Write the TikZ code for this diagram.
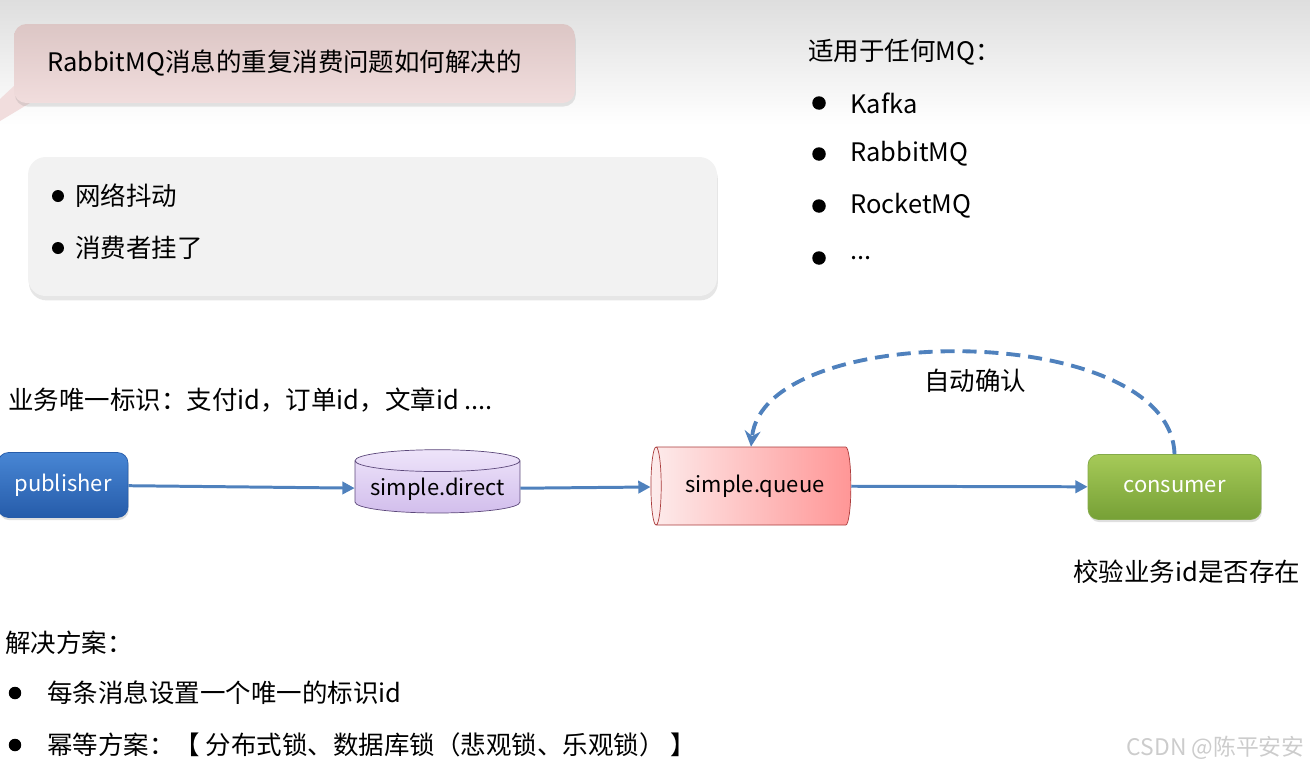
\documentclass[tikz,border=0pt]{standalone}
\usepackage{fontspec}
\setmainfont{Noto Sans CJK SC}
\usepackage{tikz}
\usetikzlibrary{
	shapes.geometric,
	arrows.meta,
	positioning,
	shadows
}
\definecolor{bggray}{RGB}{222,222,222}
\definecolor{titletop}{RGB}{220,198,197}
\definecolor{titlebot}{RGB}{241,221,221}
\definecolor{panelgray}{RGB}{242,242,242}
\definecolor{flowblue}{RGB}{79,129,189}
\definecolor{bluetop}{RGB}{72,134,212}
\definecolor{bluebot}{RGB}{38,92,170}
\definecolor{greentop}{RGB}{166,202,88}
\definecolor{greenbot}{RGB}{118,160,54}
\definecolor{lavtop}{RGB}{238,228,250}
\definecolor{lavbot}{RGB}{210,190,236}
\definecolor{lavline}{RGB}{92,72,122}
\definecolor{qleft}{RGB}{253,236,236}
\definecolor{qright}{RGB}{255,150,150}
\definecolor{qline}{RGB}{170,60,60}

\begin{document}
\begin{tikzpicture}[
				x=0.02cm, y=-0.02cm,
				stage/.style={
					rectangle, rounded corners=6pt,
					align=center, font=\fontsize{12.5}{15}\selectfont
				},
				bluebox/.style={
					stage, draw=bluebot, top color=bluetop, bottom color=bluebot,
					text=white, minimum width=2.6cm, minimum height=1.3cm,
					drop shadow={shadow xshift=0.5pt, shadow yshift=-1.5pt, opacity=0.25}
				},
				greenbox/.style={
					stage, draw=greenbot!90, top color=greentop, bottom color=greenbot,
					text=white, minimum width=3.46cm, minimum height=1.3cm,
					drop shadow={shadow xshift=0.5pt, shadow yshift=-1.5pt, opacity=0.25}
				},
				exchange/.style={
					cylinder, shape border rotate=90, aspect=0.15, draw=lavline,
					top color=lavtop, bottom color=lavbot,
					minimum width=3.3cm, minimum height=1.12cm,
					font=\fontsize{12.5}{15}\selectfont
				},
				queuebox/.style={
					cylinder, shape border rotate=180, aspect=0.3, draw=qline,
					left color=qleft, right color=qright,
					minimum width=1.56cm, minimum height=4cm,
					font=\fontsize{12.5}{15}\selectfont
				},
				titlebox/.style={
					rectangle, rounded corners=7pt, top color=titletop, bottom color=titlebot,
					minimum height=1.58cm, text width=9.9cm, inner xsep=0.66cm,
					align=left, font=\fontsize{14.5}{17}\selectfont,
					drop shadow={shadow xshift=0.5pt, shadow yshift=-2pt, opacity=0.2}
				},
				panel/.style={
					rectangle, rounded corners=10pt, fill=panelgray,
					minimum width=13.78cm, minimum height=2.78cm,
					drop shadow={shadow xshift=0.5pt, shadow yshift=-2.5pt, opacity=0.2}
				},
				note/.style={anchor=west, inner sep=0pt, font=\fontsize{14.5}{17}\selectfont},
				dot/.style={circle, fill=black, inner sep=0pt, minimum size=2.7mm},
				watermark/.style={anchor=east, inner sep=0pt, text=gray!40, font=\fontsize{13}{15}\selectfont},
				flow/.style={-{Triangle[length=7pt,width=7pt]}, line width=1.7pt, flowblue},
				ackline/.style={-{Stealth[length=9pt,width=9pt]}, line width=2.2pt, flowblue, dash pattern=on 8pt off 4.5pt}
				]
				
				% canvas and top shading
				\useasboundingbox (0,0) rectangle (1310,771);
				\fill[top color=bggray, bottom color=white] (0,0) rectangle (1310,125);
				
				% question callout
				\fill[titlebot] (14,86) -- (0,99) -- (0,121) -- (30,103) -- cycle;
				\node[titlebox] (title) at (294.5,63.5) {RabbitMQ消息的重复消费问题如何解决的};
				
				% causes
				\node[panel] (cause) at (372.5,226.5) {};
				\node[dot, minimum size=2.4mm] (jitterdot) at (58,196) {};
				\node[note] (jitter) at (75,196) {网络抖动};
				\node[dot, minimum size=2.4mm] (crashdot) at (58,248) {};
				\node[note] (crash) at (75,248) {消费者挂了};
				
				% any MQ
				\node[note] (anymq) at (808,52) {适用于任何MQ：};
				\node[dot] (kafkadot) at (819,103) {};
				\node[note] (kafka) at (850,103) {Kafka};
				\node[dot] (rabbitdot) at (819,154) {};
				\node[note] (rabbit) at (850,154) {RabbitMQ};
				\node[dot] (rocketdot) at (819,206) {};
				\node[note] (rocket) at (850,206) {RocketMQ};
				\node[dot] (moredot) at (819,258) {};
				\node[note] (more) at (850,258) {...};
				
				% business id
				\node[note] (bizid) at (8,400) {业务唯一标识：支付id，订单id，文章id ....};
				
				% message flow
				\node[bluebox] (publisher) at (63,485) {publisher};
				\node[exchange] (direct) at (437.5,489) {simple.direct};
				\node[queuebox] (queue) at (755,486) {simple.queue};
				\node[greenbox] (consumer) at (1174.5,487) {consumer};
				
				\draw[flow] (publisher) -- (direct);
				\draw[flow] (direct) -- (queue);
				\draw[flow] (queue) -- (consumer);
				
				% auto ack
				\draw[ackline] (consumer.north) .. controls +(-4,-134) and +(13,-127) .. ([xshift=-0.08cm]queue.north);
				\node[note, anchor=center] (ack) at (975,381) {自动确认};
				
				% check
				\node[note] (check) at (1073,572) {校验业务id是否存在};
				
				% solutions
				\node[note] (solution) at (5,643) {解决方案：};
				\node[dot, minimum size=2.5mm] (uniqdot) at (15,693) {};
				\node[note] (uniq) at (47,693) {每条消息设置一个唯一的标识id};
				\node[dot, minimum size=2.5mm] (idemdot) at (15,745) {};
				\node[note] (idem) at (47,745) {幂等方案：【 分布式锁、数据库锁（悲观锁、乐观锁） 】};
				
				\node[watermark] (csdn) at (1305,748) {CSDN @陈平安安};
			\end{tikzpicture}
\end{document}
